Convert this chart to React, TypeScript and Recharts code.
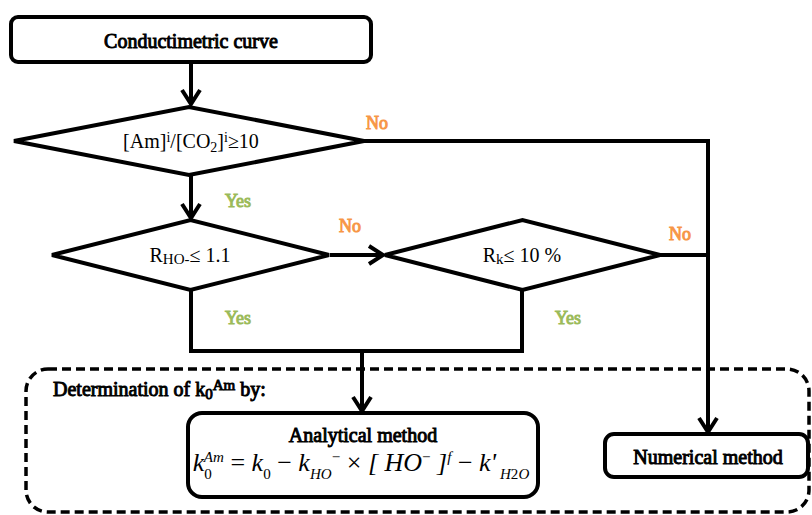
import { ComposedChart, XAxis, YAxis, ReferenceArea, Scatter } from 'recharts';

const W = 812;
const H = 515;
const FONT = '"Liberation Serif", "Times New Roman", serif';
const INK = '#000';
const YES = '#9BBB59';
const NO = '#F79646';

// process boxes (data units = page pixels)
const boxes = [
  { id: 'start', x1: 11, x2: 371, y1: 17, y2: 62, r: 7 },
  { id: 'analytical', x1: 188, x2: 538, y1: 413, y2: 497, r: 14 },
  { id: 'numerical', x1: 605, x2: 808, y1: 434, y2: 477, r: 9 },
];

// decision diamonds
const decisions = [
  { id: 'ratio', x1: 14, x2: 364, y1: 107, y2: 175 },
  { id: 'rho', x1: 52, x2: 329, y1: 220, y2: 290 },
  { id: 'rk', x1: 385, x2: 660, y1: 220, y2: 290 },
];

// dashed group
const groups = [{ id: 'determination', x1: 26, x2: 809, y1: 369, y2: 512, r: 22 }];

// connectors as polylines, arrow = head at the last point
const connectors = [
  { id: 'c1', arrow: true, pts: [{ x: 191, y: 62 }, { x: 191, y: 104 }] },
  { id: 'c2', arrow: true, pts: [{ x: 364, y: 141 }, { x: 708, y: 141 }, { x: 708, y: 432 }] },
  { id: 'c3', arrow: true, pts: [{ x: 191, y: 175 }, { x: 191, y: 218 }] },
  { id: 'c4', arrow: true, pts: [{ x: 330, y: 255 }, { x: 383, y: 255 }] },
  { id: 'c5', arrow: false, pts: [{ x: 660, y: 255 }, { x: 708, y: 255 }] },
  { id: 'c6', arrow: false, pts: [{ x: 191, y: 290 }, { x: 191, y: 351 }, { x: 522, y: 351 }, { x: 522, y: 290 }] },
  { id: 'c7', arrow: true, pts: [{ x: 362, y: 351 }, { x: 362, y: 411 }] },
];

type Seg = { t: string; s?: 'sub' | 'sup'; i?: boolean; dx?: number };

// text labels, y is the baseline; sub/sup = script shift in em, sc = script scale
const labels: { x: number; y: number; size: number; bold?: boolean; fill?: string; anchor?: string; sub?: number; sup?: number; sc?: number; segs: Seg[] }[] = [
  { x: 191, y: 48, size: 20, bold: true, segs: [{ t: 'Conductimetric curve' }] },
  { x: 191, y: 148, size: 20, sub: 0.2, sup: 0.3, sc: 0.7, segs: [{ t: '[Am]' }, { t: 'i', s: 'sup' }, { t: '/[CO' }, { t: '2', s: 'sub' }, { t: ']' }, { t: 'i', s: 'sup' }, { t: '≥10' }] },
  { x: 190, y: 262, size: 20, sub: 0.12, sc: 0.75, segs: [{ t: 'R' }, { t: 'HO-', s: 'sub' }, { t: '≤ 1.1' }] },
  { x: 522, y: 262, size: 20, sub: 0.12, sc: 0.75, segs: [{ t: 'R' }, { t: 'k', s: 'sub' }, { t: '≤ 10 %' }] },
  { x: 377, y: 129, size: 18, bold: true, fill: NO, segs: [{ t: 'No' }] },
  { x: 238, y: 207, size: 18, bold: true, fill: YES, segs: [{ t: 'Yes' }] },
  { x: 350, y: 232, size: 18, bold: true, fill: NO, segs: [{ t: 'No' }] },
  { x: 680, y: 240, size: 18, bold: true, fill: NO, segs: [{ t: 'No' }] },
  { x: 238, y: 324, size: 18, bold: true, fill: YES, segs: [{ t: 'Yes' }] },
  { x: 568, y: 324, size: 18, bold: true, fill: YES, segs: [{ t: 'Yes' }] },
  { x: 53, y: 396, size: 20, bold: true, anchor: 'start', sub: 0.15, sup: 0.3, sc: 0.75, segs: [{ t: 'Determination of k' }, { t: '0', s: 'sub' }, { t: 'Am', s: 'sup' }, { t: ' by:' }] },
  { x: 363, y: 442, size: 20, bold: true, segs: [{ t: 'Analytical method' }] },
  {
    x: 361, y: 471, size: 26, sub: 0.3, sup: 0.34, sc: 0.58, segs: [
      { t: 'k', i: true }, { t: '0', s: 'sub' }, { t: 'Am', s: 'sup', i: true, dx: -8 }, { t: ' = ' }, { t: 'k', i: true }, { t: '0', s: 'sub' },
      { t: ' − ' }, { t: 'k', i: true }, { t: 'HO', s: 'sub', i: true }, { t: '−', s: 'sup' }, { t: ' × ' }, { t: '[ HO', i: true }, { t: '−', s: 'sup' },
      { t: ' ]', i: true }, { t: 'f', s: 'sup', i: true }, { t: ' − ' }, { t: "k'", i: true }, { t: ' H', s: 'sub', i: true }, { t: '2', s: 'sub' }, { t: 'O', s: 'sub', i: true },
    ],
  },
  { x: 708, y: 464, size: 20, bold: true, segs: [{ t: 'Numerical method' }] },
];

// bold is faked with a thin outline so the serif face is kept
function RichText({ x, y, segs, size, bold, fill, anchor, sub = 0.3, sup = 0.38, sc = 0.62 }: any) {
  let shift = 0;
  const color = fill || INK;
  return (
    <text x={x} y={y} textAnchor={anchor || 'middle'} fontFamily={FONT} fontSize={size}
      fill={color} stroke={bold ? color : 'none'} strokeWidth={bold ? 0.95 : 0}
      style={{ whiteSpace: 'pre' }}>
      {segs.map((g: Seg, k: number) => {
        const target = g.s === 'sub' ? size * sub : g.s === 'sup' ? -size * sup : 0;
        const dy = target - shift;
        shift = target;
        return (
          <tspan key={k} dy={dy} dx={g.dx} fontSize={g.s ? size * sc : undefined} fontStyle={g.i ? 'italic' : undefined}>
            {g.t}
          </tspan>
        );
      })}
    </text>
  );
}

function arrowHead(pts: { x: number; y: number }[]) {
  const a = pts[pts.length - 2];
  const b = pts[pts.length - 1];
  const dx = Math.sign(b.x - a.x);
  const dy = Math.sign(b.y - a.y);
  const back = 14;
  const side = 9;
  return [
    { x: b.x - dx * back + dy * side, y: b.y - dy * back + dx * side },
    { x: b.x, y: b.y },
    { x: b.x - dx * back - dy * side, y: b.y - dy * back - dx * side },
  ];
}

const noDot = () => <g />;
const lineStyle = { stroke: INK, strokeWidth: 4, strokeLinejoin: 'miter', strokeLinecap: 'butt', fill: 'none' };

export default function App() {
  return (
    <div style={{ position: 'absolute', left: 0, top: 0, background: '#fff' }}>
      <ComposedChart width={W} height={H} margin={{ top: 0, right: 0, bottom: 0, left: 0 }}>
        <XAxis type="number" dataKey="x" domain={[0, W]} allowDataOverflow hide />
        <YAxis type="number" dataKey="y" domain={[0, H]} reversed allowDataOverflow hide />

        {groups.map(g => (
          <ReferenceArea key={g.id} x1={g.x1} x2={g.x2} y1={g.y1} y2={g.y2}
            shape={(p: any) => (
              <rect x={p.x} y={p.y} width={p.width} height={p.height} rx={g.r} ry={g.r}
                fill="none" stroke={INK} strokeWidth={3.5} strokeDasharray="9 5" />
            )} />
        ))}

        {boxes.map(b => (
          <ReferenceArea key={b.id} x1={b.x1} x2={b.x2} y1={b.y1} y2={b.y2}
            shape={(p: any) => (
              <rect x={p.x} y={p.y} width={p.width} height={p.height} rx={b.r} ry={b.r}
                fill="#fff" stroke={INK} strokeWidth={4} />
            )} />
        ))}

        {decisions.map(d => (
          <ReferenceArea key={d.id} x1={d.x1} x2={d.x2} y1={d.y1} y2={d.y2}
            shape={(p: any) => {
              const cx = p.x + p.width / 2;
              const cy = p.y + p.height / 2;
              return (
                <polygon
                  points={`${p.x},${cy} ${cx},${p.y} ${p.x + p.width},${cy} ${cx},${p.y + p.height}`}
                  fill="#fff" stroke={INK} strokeWidth={4} strokeLinejoin="miter" />
              );
            }} />
        ))}

        {connectors.map(c => (
          <Scatter key={c.id} data={c.pts} line={lineStyle} lineType="joint" shape={noDot} isAnimationActive={false} />
        ))}
        {connectors.filter(c => c.arrow).map(c => (
          <Scatter key={c.id + '-head'} data={arrowHead(c.pts)} line={lineStyle} lineType="joint" shape={noDot} isAnimationActive={false} />
        ))}

        <Scatter data={labels} isAnimationActive={false}
          shape={(p: any) => <RichText {...p.payload} x={p.cx} y={p.cy} />} />
      </ComposedChart>
    </div>
  );
}
